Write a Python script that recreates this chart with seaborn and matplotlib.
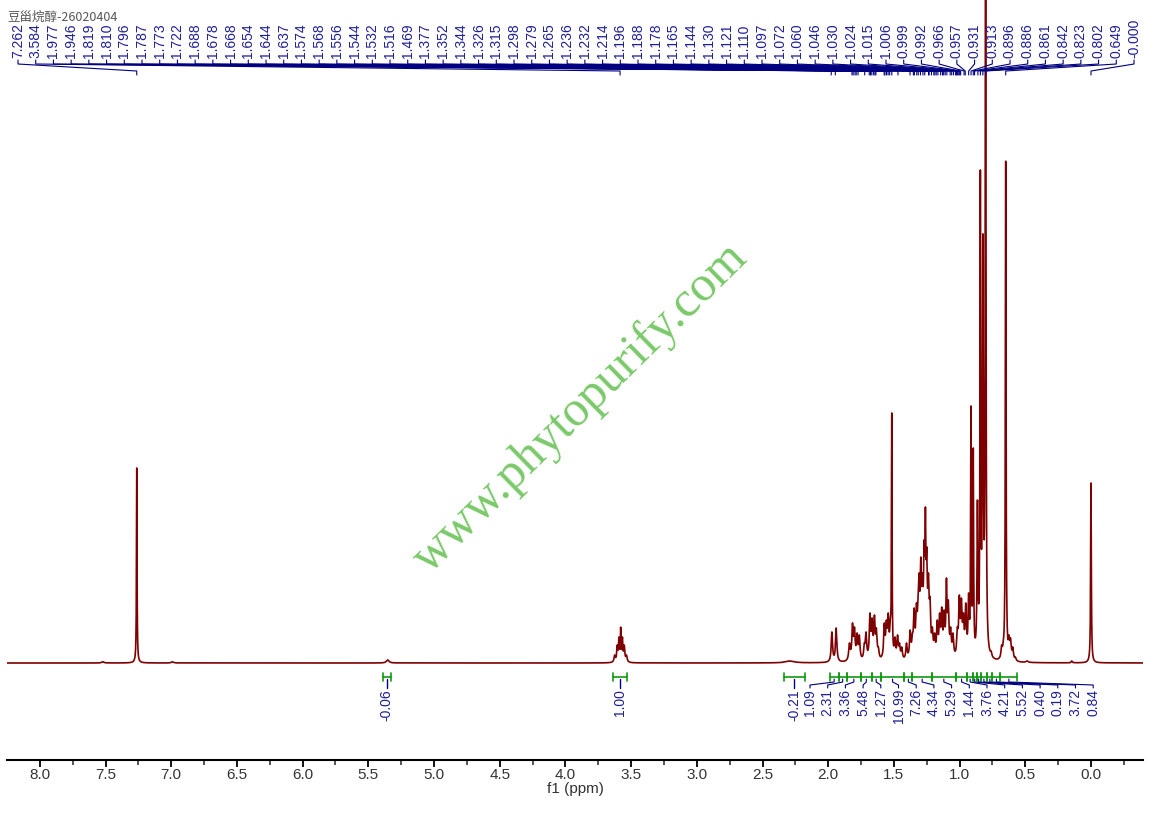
import numpy as np
import pandas as pd
import matplotlib
matplotlib.use("Agg")
import matplotlib.pyplot as plt
from matplotlib.ticker import MultipleLocator, FormatStrFormatter
import seaborn as sns

# ---------------- data ----------------
title_text = "豆甾烷醇-26020404"
watermark_text = "www.phytopurify.com"
x_label = "f1 (ppm)"

# spectrum lines: position (ppm), height (px above baseline), half-width (ppm)
peak_ppm = [7.52, 6.99, 7.262, 5.352,
            3.625, 3.605, 3.592, 3.579, 3.566, 3.552, 3.535,
            2.29,
            1.972, 1.939, 1.838, 1.815, 1.800, 1.780, 1.763, 1.725, 1.712,
            1.682, 1.666, 1.648, 1.633, 1.618, 1.573, 1.557, 1.543, 1.527,
            1.516, 1.492, 1.472, 1.457, 1.440, 1.404, 1.376, 1.359, 1.346,
            1.328, 1.316, 1.308, 1.295, 1.283, 1.270, 1.260, 1.250, 1.237,
            1.225, 1.207, 1.190, 1.170, 1.152, 1.136, 1.118, 1.100, 1.086,
            1.068, 1.050, 1.017, 1.002, 0.986, 0.971, 0.953, 0.931, 0.913,
            0.896, 0.864, 0.842, 0.823, 0.802, 0.780, 0.760, 0.680, 0.667,
            0.649, 0.624, 0.612, 0.595, 0.575, 0.486, 0.146, 0.000]
peak_height = [1.2, 1.2, 195, 3,
               8, 18, 26, 36, 26, 18, 8,
               2,
               31, 35, 20, 40, 36, 30, 28, 20, 31,
               50, 45, 48, 35, 16, 40, 43, 50, 45,
               250, 26, 28, 20, 16, 20, 33, 30, 55,
               60, 66, 90, 106, 90, 123, 156, 116, 90,
               66, 36, 30, 43, 50, 56, 53, 85, 63,
               36, 30, 36, 68, 65, 50, 60, 70, 258,
               215, 163, 493, 430, 900, 20, 12, 18, 23,
               504, 28, 25, 16, 6, 2, 2, 180]
peak_width = [0.01, 0.01, 0.0025, 0.012,
              0.006, 0.005, 0.004, 0.003, 0.004, 0.005, 0.006,
              0.04,
              0.006, 0.006, 0.007, 0.006, 0.006, 0.006, 0.006, 0.006, 0.006,
              0.006, 0.006, 0.006, 0.006, 0.006, 0.006, 0.006, 0.006, 0.006,
              0.0025, 0.006, 0.006, 0.006, 0.006, 0.006, 0.006, 0.006, 0.006,
              0.006, 0.006, 0.006, 0.005, 0.006, 0.005, 0.004, 0.005, 0.006,
              0.006, 0.006, 0.006, 0.006, 0.006, 0.006, 0.006, 0.005, 0.006,
              0.006, 0.006, 0.006, 0.006, 0.006, 0.006, 0.006, 0.005, 0.003,
              0.003, 0.004, 0.003, 0.004, 0.003, 0.006, 0.006, 0.006, 0.006,
              0.003, 0.006, 0.006, 0.006, 0.006, 0.01, 0.005, 0.003]

# peak picking labels (top)
peak_labels = ["7.262", "3.584", "1.977", "1.946", "1.819", "1.810", "1.796", "1.787",
               "1.773", "1.722", "1.688", "1.678", "1.668", "1.654", "1.644", "1.637",
               "1.574", "1.568", "1.556", "1.544", "1.532", "1.516", "1.469", "1.377",
               "1.352", "1.344", "1.326", "1.315", "1.298", "1.279", "1.265", "1.236",
               "1.232", "1.214", "1.196", "1.188", "1.178", "1.165", "1.144", "1.130",
               "1.121", "1.110", "1.097", "1.072", "1.060", "1.046", "1.030", "1.024",
               "1.015", "1.006", "0.999", "0.992", "0.966", "0.957", "0.931", "0.913",
               "0.896", "0.886", "0.861", "0.842", "0.823", "0.802", "0.649", "-0.000"]

# integrals
int_labels = ["-0.06", "1.00", "-0.21", "1.09", "2.31", "3.36", "5.48", "1.27",
              "10.99", "7.26", "4.34", "5.29", "1.44", "3.76", "4.21", "5.52",
              "0.40", "0.19", "3.72", "0.84"]
int_start = [5.39, 3.64, 2.34, 1.99, 1.92, 1.86, 1.75, 1.67, 1.60, 1.42, 1.36,
             1.21, 1.03, 0.94, 0.90, 0.87, 0.84, 0.79, 0.75, 0.69]
int_end = [5.33, 3.53, 2.18, 1.92, 1.86, 1.75, 1.67, 1.60, 1.42, 1.36, 1.21,
           1.03, 0.94, 0.90, 0.87, 0.84, 0.79, 0.75, 0.69, 0.56]

# ---------------- helpers ----------------
PX0, PXPPM, BASE = 1091.0, 131.4, 663.0


def px2ppm(x):
    return (PX0 - np.asarray(x, float)) / PXPPM


def py2y(py):
    return BASE - np.asarray(py, float)


pos = np.array(peak_ppm)
hgt = np.array(peak_height, float)
gam = np.array(peak_width)

# weights so that the Lorentzian sum reaches the read heights at the peak positions
A = 1.0 / (1.0 + ((pos[:, None] - pos[None, :]) / gam[None, :]) ** 2)
w = hgt.copy()
for _ in range(400):
    w = w * hgt / (A @ w)

xg = np.arange(-0.40, 8.26, 0.0004)
yg = np.zeros_like(xg)
for p, g, a in zip(pos, gam, w):
    yg += a / (1.0 + ((xg - p) / g) ** 2)
spec = pd.DataFrame({"ppm": xg, "intensity": yg})

# ---------------- figure ----------------
sns.set_theme(style="ticks")
plt.rcParams["font.family"] = ["Liberation Sans", "DejaVu Sans"]

fig = plt.figure(figsize=(11.49, 8.13), dpi=100)
ax = fig.add_axes([7 / 1149, 1 - 760 / 813, (1143 - 7) / 1149, 760 / 813])

# watermark
ax.text(px2ppm(580), py2y(408), watermark_text, rotation=44.5, rotation_mode="anchor",
        ha="center", va="center", fontsize=36, family="Liberation Serif",
        color="#6cc35a", alpha=0.9, zorder=1)

sns.lineplot(data=spec, x="ppm", y="intensity", ax=ax, color="#7f0000",
             linewidth=1.2, sort=False, estimator=None, zorder=3)

ax.set_xlim(px2ppm(7), px2ppm(1143))
ax.set_ylim(py2y(760), py2y(0))

# peak labels on top
navy = "#000080"
txt_blue = "#1e1e9a"
lab_px = np.linspace(18, 1134, len(peak_labels))
for s, lx in zip(peak_labels, px2ppm(lab_px)):
    pv = float(s)
    ax.text(lx, py2y(58), s, rotation=90, ha="center", va="bottom",
            fontsize=10, color=txt_blue, zorder=5)
    ax.plot([lx, lx, pv, pv], py2y([60, 64, 71, 75]), color=navy, lw=0.8, zorder=4)

# integrals
green = "#109a10"
n_int = len(int_labels)
spread = 810 + 17.7 * np.arange(n_int - 3)
for i in range(n_int):
    a0, a1 = int_start[i], int_end[i]
    c = 0.5 * (a0 + a1)
    ax.plot([a0, a1], py2y([677, 677]), color=green, lw=1.2, zorder=4)
    ax.plot([a0, a0], py2y([673, 681]), color=green, lw=1.2, zorder=4)
    ax.plot([a1, a1], py2y([673, 681]), color=green, lw=1.2, zorder=4)
    if i < 3:
        lx = c
        ax.plot([c, c], py2y([679, 688]), color=navy, lw=1.0, zorder=4)
    else:
        lx = float(px2ppm(spread[i - 3]))
        ax.plot([lx, lx, c, c], py2y([688, 685, 682, 679]), color=navy, lw=0.8, zorder=4)
    ax.text(lx, py2y(689), int_labels[i], rotation=90, ha="center", va="top",
            fontsize=10, color=txt_blue, zorder=5)

# axes styling
for side in ["left", "right", "top"]:
    ax.spines[side].set_visible(False)
ax.spines["bottom"].set_linewidth(1.5)
ax.spines["bottom"].set_color("black")
ax.set_yticks([])
ax.set_ylabel("")
ax.xaxis.set_major_locator(MultipleLocator(0.5))
ax.xaxis.set_minor_locator(MultipleLocator(0.25))
ax.xaxis.set_major_formatter(FormatStrFormatter("%.1f"))
ax.tick_params(axis="x", which="major", direction="out", length=5, width=1.3,
               labelsize=11, pad=1, colors="black", labelcolor="#333333")
ax.tick_params(axis="x", which="minor", direction="out", length=3.5, width=1.1)
ax.set_xlabel(x_label, fontsize=11, color="#333333", labelpad=0)
ax.set_facecolor("white")

fig.text(7 / 1149, 1 - 17 / 813, title_text, ha="left", va="center", fontsize=9,
         color="#555555", family=["Noto Sans CJK SC", "DejaVu Sans"])

fig.savefig("out.png", dpi=100, facecolor="white")
